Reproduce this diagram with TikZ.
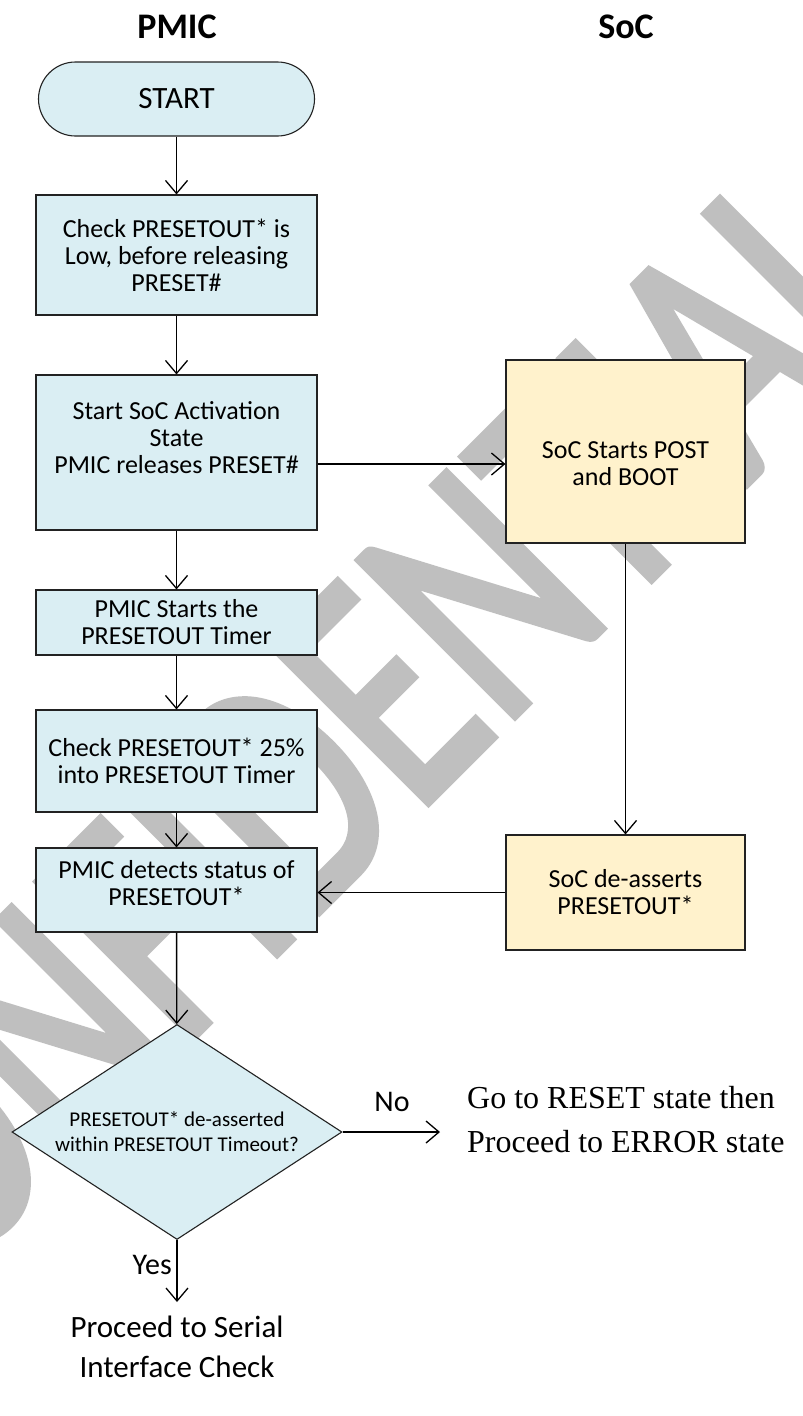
\documentclass[tikz,border=0pt]{standalone}
\usepackage{fontspec}
\setmainfont{Carlito}
\newfontfamily\serifface{Liberation Serif}
\newfontfamily\wmface{Carlito}[FakeBold=2.5]
\usetikzlibrary{arrows.meta,shapes.geometric}

\definecolor{boxblue}{HTML}{DAEEF3}
\definecolor{boxyellow}{HTML}{FFF2CC}
\definecolor{wmgray}{HTML}{BFBFBF}
\definecolor{edge}{HTML}{222222}

\tikzset{
  flow/.style={draw=edge, line width=1.1pt, fill=boxblue, align=center,
    inner sep=0pt, font=\fontsize{26}{27}\selectfont},
  pmicbox/.style={flow, minimum width=281pt},
  socbox/.style={flow, fill=boxyellow, minimum width=239pt},
  boxtext/.style={align=center, inner sep=0pt, font=\fontsize{26}{27}\selectfont},
  title/.style={font=\fontsize{36}{40}\bfseries\selectfont},
  conn/.style={line width=1.4pt,
    -{Straight Barb[length=13pt,width=22pt,line width=1.3pt]}},
  lbl/.style={font=\fontsize{30}{32}\selectfont, inner sep=0pt},
}

\begin{document}
\begin{tikzpicture}[x=1pt,y=-1pt]
\useasboundingbox (0,0) rectangle (803,1416);
\fill[white] (0,0) rectangle (803,1416);

% watermark behind everything
\node[rotate=45, yscale=1.37, text=wmgray, inner sep=0pt,
  font=\wmface\fontsize{250}{250}\selectfont] (wm) at (312,763) {CONFIDENTIAL};

% column titles
\node[title] (pmic) at (177,27) {PMIC};
\node[title] (soc) at (626,27) {SoC};

% PMIC column
\node[flow, rounded corners=37pt, minimum width=276pt, minimum height=74pt,
  font=\fontsize{31}{34}\selectfont] (start) at (176.5,99) {START};
\node[pmicbox, minimum height=120pt] (b1) at (176.5,255)
  {Check PRESETOUT* is\\Low, before releasing\\PRESET\#};
\node[pmicbox, minimum height=155pt] (b2) at (176.5,452.5) {};
\node[boxtext] (b2t) at (176.5,438)
  {Start SoC Activation\\State\\PMIC releases PRESET\#};
\node[pmicbox, minimum height=65pt] (b3) at (176.5,622.5)
  {PMIC Starts the\\PRESETOUT Timer};
\node[pmicbox, minimum height=102pt] (b4) at (176.5,761)
  {Check PRESETOUT* 25\%\\into PRESETOUT Timer};
\node[pmicbox, minimum height=84pt] (b5) at (176.5,890) {};
\node[boxtext] (b5t) at (176.5,883)
  {PMIC detects status of\\PRESETOUT*};
\node[flow, shape=diamond, aspect=1.53, minimum width=330pt, minimum height=215pt,
  font=\fontsize{21}{25}\selectfont] (dec) at (177,1132)
  {PRESETOUT* de-asserted\\within PRESETOUT Timeout?};

% SoC column
\node[socbox, minimum height=183pt] (s1) at (625.5,451.5) {};
\node[boxtext] (s1t) at (625.5,464) {SoC Starts POST\\and BOOT};
\node[socbox, minimum height=115pt] (s2) at (625.5,892.5)
  {SoC de-asserts\\PRESETOUT*};

% outcomes
\node[anchor=west, align=left, inner sep=0pt,
  font=\serifface\fontsize{32}{44}\selectfont] (err) at (467,1120)
  {Go to RESET state then\\Proceed to ERROR state};
\node[align=center, inner sep=0pt, anchor=north,
  font=\fontsize{31}{40}\selectfont] (serial) at (177,1316)
  {Proceed to Serial\\Interface Check};

% connectors
\draw[conn] (start) -- (b1);
\draw[conn] (b1) -- (b2);
\draw[conn] (b2) -- (b3);
\draw[conn] (b3) -- (b4);
\draw[conn] (b4) -- (b5);
\draw[conn] (b5) -- (dec);
\draw[conn] (b2.east |- s1t) -- (s1.west |- s1t);
\draw[conn] (s1) -- (s2);
\draw[conn] (s2.west) -- (s2.west -| b5.east);
\draw[conn, shorten >=27pt] (dec.east) -- (dec.east -| err.west);
\draw[conn, shorten >=14pt] (dec.south) -- (serial.north);

% branch labels
\node[lbl, anchor=south] (no) at (392,1112) {No};
\node[lbl, anchor=east] (yes) at (172,1265) {Yes};
\end{tikzpicture}
\end{document}
